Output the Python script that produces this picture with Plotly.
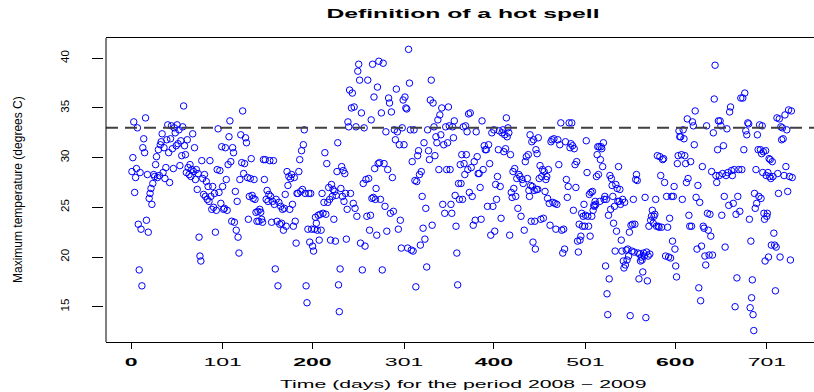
import plotly.graph_objects as go

# ---------------- data (daily maximum temperature) ----------------
# each segment: first day, last day, temperatures observed in that span (in time order)
seg_days = [(1, 24), (25, 58), (59, 94), (95, 120), (121, 143), (144, 168), (169, 195),
            (196, 220), (221, 240), (241, 252), (253, 263), (264, 274), (275, 285),
            (286, 298), (299, 309), (310, 321), (322, 333), (334, 348), (349, 362),
            (363, 373), (374, 386), (387, 399), (400, 411), (412, 422), (423, 437),
            (438, 449), (450, 462), (463, 476), (477, 484), (485, 495), (496, 507),
            (508, 519), (520, 532), (533, 545), (546, 559), (560, 571), (572, 584),
            (585, 596), (597, 605), (606, 616), (617, 628), (629, 642), (643, 655),
            (656, 668), (669, 680), (681, 693), (694, 706), (707, 719), (720, 729)]

seg_temps = [
    [28.6, 30.0, 33.6, 26.5, 28.0, 28.9, 33.0, 23.3, 18.7, 28.5, 22.8, 17.1, 31.0, 31.9, 30.5, 34.0,
     23.7, 28.3, 22.5, 25.9, 26.4, 26.9, 25.3, 27.4],
    [28.3, 28.1, 29.3, 30.1, 28.0, 30.8, 28.2, 31.3, 31.6, 32.4, 28.5, 31.0, 27.9, 29.0, 31.8, 33.3,
     30.5, 27.5, 31.9, 33.2, 30.9, 28.9, 33.0, 32.5, 31.2, 33.3, 31.4, 32.8, 29.2, 31.7, 30.2, 33.1, 35.2],
    [31.2, 30.3, 28.5, 31.8, 29.0, 28.3, 29.3, 28.1, 28.8, 32.4, 28.6, 31.0, 27.8, 28.8, 26.8, 28.4,
     22.0, 20.1, 19.6, 29.7, 27.9, 26.3, 28.3, 26.1, 27.6, 25.8, 27.1, 25.6, 29.7, 26.1, 24.8, 27.1,
     25.0, 26.4, 22.5, 24.7],
    [28.8, 32.9, 26.5, 28.7, 25.4, 31.1, 27.1, 24.8, 24.9, 31.0, 27.8, 24.7, 29.3, 32.1, 33.7, 29.6,
     23.6, 31.0, 30.5, 23.5, 26.6, 22.7, 25.6, 22.0, 20.4, 27.8],
    [32.3, 29.5, 34.7, 28.4, 29.4, 32.0, 31.5, 28.0, 23.8, 26.1, 27.9, 29.9, 26.2, 25.9, 27.8, 25.8,
     24.5, 23.6, 24.6, 23.6, 24.8, 24.5],
    [23.8, 23.5, 29.8, 27.8, 29.8, 25.8, 26.7, 25.6, 26.3, 29.7, 26.1, 23.5, 25.6, 29.7, 25.3, 18.8,
     25.8, 23.6, 17.1, 25.5, 23.3, 25.1, 23.4, 24.8, 22.7],
    [24.9, 26.3, 23.1, 28.6, 27.2, 28.1, 24.8, 27.9, 28.3, 25.3, 23.1, 28.0, 23.6, 21.4, 26.4, 26.4,
     28.6, 29.8, 26.6, 30.7, 26.8, 31.3, 32.8, 26.4, 17.1, 15.4, 22.8],
    [26.4, 21.5, 26.4, 22.8, 21.1, 20.6, 22.8, 24.0, 23.4, 22.7, 24.2, 21.7, 24.3, 22.7, 26.4, 24.4,
     25.5, 30.5, 24.3, 29.4, 25.5, 27.0, 25.8, 21.7],
    [27.3, 26.1, 26.8, 23.8, 26.6, 21.6, 26.2, 28.6, 31.5, 17.2, 14.5, 18.8, 26.9, 29.1, 26.1, 28.7,
     25.6, 28.4, 26.4, 21.8, 24.8, 33.6, 33.1],
    [36.8, 26.4, 35.0, 36.5, 25.4, 35.1, 24.9, 33.1, 24.1, 38.7, 39.4, 37.8],
    [21.4, 34.5, 18.7, 27.4, 33.0, 21.1, 27.8, 24.1, 37.8, 27.9, 22.7],
    [24.2, 33.8, 25.9, 39.4, 26.0, 36.1, 28.9, 25.8, 26.9, 22.2, 37.1, 29.4, 39.7, 29.5],
    [25.8, 34.5, 18.7, 39.5, 29.4, 25.1, 32.6, 22.6, 28.8, 36.0, 35.5],
    [24.4, 34.6, 28.0, 24.6, 32.8, 31.8, 36.9, 32.6, 22.8, 31.3, 23.7, 20.9],
    [33.0, 35.8, 31.3, 36.1, 35.0, 34.9, 20.9, 40.9, 37.5, 32.8, 20.7],
    [29.6, 20.6, 32.8, 27.7, 17.0, 27.6, 30.2, 30.7, 28.3, 21.2, 28.6, 26.1],
    [22.9, 31.5, 21.8, 24.9, 19.0, 32.8, 30.7, 29.8, 35.8, 37.8, 23.2, 35.5],
    [33.1, 30.2, 32.1, 31.5, 33.8, 28.8, 34.3, 32.3, 35.0, 25.3, 31.3, 24.4, 33.1, 28.8],
    [31.5, 35.1, 33.2, 28.8, 25.3, 24.4, 33.1, 32.0, 33.7, 26.2, 23.1, 20.4, 17.2, 27.4, 25.8],
    [29.3, 27.4, 30.3, 25.8, 33.1, 29.4, 28.3, 33.2, 30.3, 32.6, 28.8, 34.4, 26.5],
    [34.5, 29.0, 26.1, 23.2, 29.6, 23.7, 32.6, 30.1, 28.4, 28.4, 27.0, 23.8],
    [33.7, 28.8, 31.2, 30.8, 30.8, 25.1, 31.3, 29.4, 22.2, 32.5, 25.1],
    [32.8, 22.6, 27.3, 25.8, 28.1, 30.8, 32.7, 27.1, 23.9, 32.5, 32.8, 30.6],
    [32.3, 30.9, 34.0, 32.1, 33.0, 32.5, 22.2, 30.3, 26.5, 26.0, 28.6, 26.9],
    [28.9, 26.1, 27.9, 24.9, 28.3, 28.1, 24.1, 27.8, 27.4, 22.7, 29.6, 30.1, 27.9],
    [30.3, 26.7, 26.1, 32.3, 27.2, 23.6, 31.6, 27.1, 21.5, 31.8, 26.7, 23.6, 20.8, 30.8, 26.8, 30.4,
     26.8, 32.0],
    [27.9, 29.2, 23.8, 28.1, 28.8, 23.9, 28.6, 26.6, 27.8, 28.1, 25.9, 28.8, 25.4, 23.2],
    [31.6, 31.8, 25.5, 31.9, 25.4, 22.8, 25.3, 31.8, 29.3, 31.3, 33.5, 22.7, 20.4],
    [22.8, 20.8, 31.6, 27.8, 26.0, 27.1, 33.5, 31.0],
    [31.4, 33.5, 31.2, 24.7, 30.9, 29.3, 27.0, 29.6, 21.6, 20.5, 23.3, 21.7],
    [22.1, 24.4, 23.1, 24.1, 25.3, 23.1, 24.2, 31.7, 28.5, 24.1, 23.1, 26.3, 22.1, 26.5],
    [24.1, 26.6, 24.7, 25.2, 25.1, 25.6, 25.3, 28.1, 30.3, 31.1, 28.3, 31.1, 25.6, 29.8, 31.1, 30.9],
    [29.1, 31.5, 25.8, 26.1, 19.1, 25.8, 16.3, 14.2, 24.2, 17.8, 28.2, 24.8, 27.9, 27.2, 26.1, 23.4],
    [25.1, 20.6, 27.3, 22.6, 26.9, 25.6, 29.1, 25.6, 26.8, 25.3, 21.7, 20.6, 25.8, 19.6, 18.9, 25.5, 19.2],
    [20.7, 19.7, 20.8, 20.1, 22.5, 14.1, 23.2, 20.6, 23.3, 25.8, 20.5, 23.3, 27.8, 28.3, 27.7, 20.4],
    [17.8, 20.3, 19.6, 20.0, 19.7, 18.5, 20.4, 20.1, 26.0, 13.9, 20.5, 17.6, 20.1, 23.1],
    [20.3, 23.7, 24.1, 24.7, 23.4, 24.1, 24.3, 25.8, 23.1, 30.2, 23.1, 23.0, 30.1, 28.2],
    [23.0, 29.8, 29.9, 27.5, 20.1, 26.1, 23.0, 20.0, 23.9, 19.9, 26.1],
    [21.6, 26.1, 27.1, 20.8, 19.1, 18.0, 29.4, 30.2, 32.7, 32.1],
    [32.1, 30.3, 25.8, 32.8, 31.9, 30.2, 29.4, 27.5, 33.9, 27.9, 24.2, 23.1],
    [29.6, 23.1, 33.6, 33.2, 31.3, 34.7, 26.0, 20.8, 27.2, 16.9, 25.5, 15.6],
    [21.1, 29.1, 23.1, 22.9, 20.1, 19.2, 33.2, 24.4, 22.7, 20.2, 24.3, 22.1, 28.6, 20.2, 32.5],
    [35.9, 39.3, 28.2, 27.5, 30.8, 33.7, 28.2, 33.7, 33.2, 24.2, 28.4, 31.2, 26.1, 21.0],
    [28.2, 32.9, 28.5, 25.2, 34.6, 35.1, 28.7, 28.2, 25.4, 28.8, 15.0, 24.3, 17.9],
    [26.1, 28.8, 24.6, 36.0, 28.8, 36.0, 30.8, 36.5, 32.7, 32.3, 33.5],
    [33.4, 23.8, 14.9, 21.6, 15.9, 17.7, 14.2, 12.6, 26.4, 24.9, 28.8, 25.4, 32.3, 30.8, 26.1, 33.3],
    [30.8, 25.9, 30.4, 33.2, 28.5, 30.6, 24.4, 23.8, 19.6, 30.7, 28.2, 24.1, 24.4, 28.5, 20.0, 29.9,
     28.1, 29.8, 27.9, 21.2],
    [29.6, 28.1, 22.4, 21.2, 16.6, 21.0, 34.0, 28.4, 26.4, 33.9, 20.0, 33.1, 31.8, 33.0, 31.9],
    [28.2, 34.3, 29.1, 32.8, 26.6, 34.8, 28.1, 19.7, 34.7, 28.0],
]

threshold = 33.0
x_tick_vals = [0, 101, 200, 301, 400, 501, 600, 701]
x_tick_text = ["<b>0</b>", "101", "<b>200</b>", "301", "<b>400</b>", "501", "<b>600</b>", "701"]
y_tick_vals = [15, 20, 25, 30, 35, 40]

title_text = "Definition of a hot spell"
x_title = "Time (days) for the period 2008 \u2212 2009"
y_title = "Maximum temperature (degrees C)"

# ---------------- build series ----------------
days, temps = [], []
for (a, b), vals in zip(seg_days, seg_temps):
    n = len(vals)
    for i, v in enumerate(vals):
        days.append(a + (b - a) * i / (n - 1) if n > 1 else a)
        temps.append(v)

W, H = 814, 392
box_left, box_top, box_bottom = 106, 38, 342
FONT = "Liberation Sans, Arial, Helvetica, sans-serif"
NARROW = "Liberation Sans Narrow, Liberation Sans, Arial, sans-serif"

fig = go.Figure()
fig.add_trace(go.Scatter(
    x=days, y=temps, mode="markers",
    marker=dict(symbol="circle-open", size=6.5, color="#0000ff", line=dict(width=1, color="#0000ff")),
    hoverinfo="skip", showlegend=False,
))

fig.add_shape(type="line", xref="x domain", yref="y", x0=0, x1=1, y0=threshold, y1=threshold,
              line=dict(color="#404040", width=2, dash="12px,7px"))
fig.add_shape(type="line", xref="x domain", yref="y domain", x0=0, x1=0, y0=0, y1=1,
              line=dict(color="black", width=1))

fig.update_layout(
    width=W, height=H,
    margin=dict(l=0, r=0, t=box_top, b=H - box_bottom, pad=0),
    paper_bgcolor="white", plot_bgcolor="white",
    title=dict(text="<b>" + title_text + "</b>", x=463 / W, xref="container", xanchor="center",
               y=1 - 13 / H, yref="container", yanchor="middle",
               font=dict(family=FONT, size=13, color="black")),
    xaxis=dict(domain=[box_left / W, 1], range=[-27.6, 753.0],
               showgrid=False, zeroline=False,
               showline=True, mirror=True, linecolor="black", linewidth=1,
               ticks="outside", ticklen=6, tickcolor="black", tickwidth=1,
               ticklabelstandoff=3,
               tickvals=x_tick_vals, ticktext=x_tick_text,
               tickfont=dict(family=FONT, size=11.5, color="black")),
    yaxis=dict(anchor="free", position=103 / W, range=[11.45, 42.04],
               showgrid=False, zeroline=False, showline=False,
               ticks="outside", ticklen=11, tickcolor="black", tickwidth=1,
               tickvals=y_tick_vals, ticktext=[str(v) for v in y_tick_vals],
               tickangle=-90, ticklabelstandoff=18,
               tickfont=dict(family=NARROW, size=11.5, color="black")),
    annotations=[
        dict(text=y_title, xref="paper", yref="paper", x=18 / W, y=0.5, textangle=-90,
             showarrow=False, xanchor="center", yanchor="middle",
             font=dict(family=NARROW, size=12, color="black")),
        dict(text=x_title, xref="paper", yref="paper", x=463 / W, y=(box_bottom - 383) / (box_bottom - box_top),
             showarrow=False, xanchor="center", yanchor="middle",
             font=dict(family=FONT, size=11.6, color="black")),
    ],
)

post = """
var gd = document.getElementById('{plot_id}');
function stretch(t, f){
  if(!t) return;
  var w = t.getComputedTextLength();
  if(!w) return;
  t.setAttribute('textLength', (w*f).toFixed(2));
  t.setAttribute('lengthAdjust', 'spacingAndGlyphs');
}
gd.querySelectorAll('text.gtitle').forEach(function(t){ stretch(t, 1.9); });
gd.querySelectorAll('g.xtick text').forEach(function(t){ stretch(t, 2.0); });
gd.querySelectorAll('text.annotation-text').forEach(function(t){
  if(t.textContent.indexOf('Time') === 0){ stretch(t, 1.83); }
});
"""

fig.write_html("out.html", post_script=post)
